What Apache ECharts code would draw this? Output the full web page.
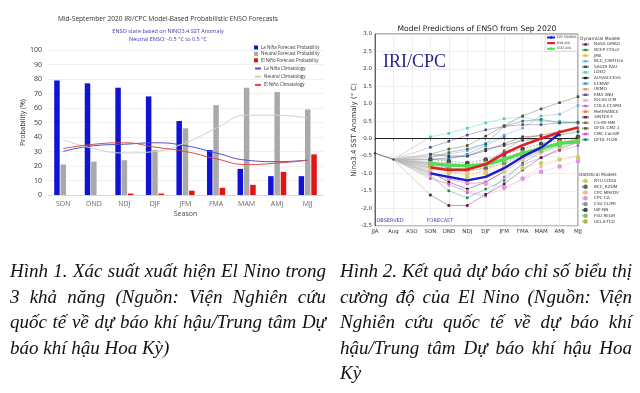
<!DOCTYPE html>
<html><head><meta charset="utf-8">
<script src="https://cdn.jsdelivr.net/npm/echarts@6/dist/echarts.min.js"></script>
<style>
html,body{margin:0;padding:0;background:#fff;}
#c{position:absolute;left:0;top:0;width:640px;height:393px;}
.cap{position:absolute;font-family:"Liberation Serif","DejaVu Serif",serif;font-style:italic;font-size:19px;color:#111;line-height:25.6px;}
.cap div{text-align:justify;text-align-last:justify;white-space:nowrap;}
.cap div.last{text-align:left;text-align-last:left;}
</style></head>
<body>
<div id="c"></div>
<div class="cap" style="left:10px;top:258px;width:316px;">
<div>Hình 1. Xác suất xuất hiện El Nino trong</div>
<div>3 khả năng (Nguồn: Viện Nghiên cứu</div>
<div>quốc tế về dự báo khí hậu/Trung tâm Dự</div>
<div class="last">báo khí hậu Hoa Kỳ)</div>
</div>
<div class="cap" style="left:340px;top:258px;width:292px;">
<div>Hình 2. Kết quả dự báo chỉ số biểu thị</div>
<div>cường độ của El Nino (Nguồn: Viện</div>
<div>Nghiên cứu quốc tế về dự báo khí</div>
<div>hậu/Trung tâm Dự báo khí hậu Hoa</div>
<div class="last">Kỳ</div>
</div>
<script>
// ---------- Left chart data ----------
const seasons = ['SON','OND','NDJ','DJF','JFM','FMA','MAM','AMJ','MJJ'];
const laNinaProb = [79,77,74,68,51,31,18,13,13];
const neutralProb = [21,23,24,31,46,62,74,71,59];
const elNinoProb = [0,0,1,1,3,5,7,16,28];
const laNinaClim = [30,34,35,36,34,29,24,23,24];
const neutralClim = [38,32,29,30,36,46,55,55,53];
const elNinoClim = [32,35,36,33,30,25,21,22,24];
const probTicks = [0,10,20,30,40,50,60,70,80,90,100];

// ---------- Right chart data ----------
const months = ['JJA','Aug','ASO','SON','OND','NDJ','DJF','JFM','FMA','MAM','AMJ','MJJ'];
const observed = [-0.42,-0.6];
// forecast values SON..MJJ
const cpcConsol = [-1.0,-1.1,-1.2,-1.1,-0.85,-0.52,-0.26,0.14,null];
const dynAvg = [-0.83,-0.9,-0.89,-0.74,-0.43,-0.19,0.0,0.18,0.32];
const statAvg = [-0.71,-0.76,-0.78,-0.74,-0.6,-0.42,-0.28,-0.14,-0.09];
const dynNames = ['NASA GMAO','NCEP CFSv2','JMA','BCC_CSM11m','SAUDI-KAU','LDEO','AUS/ACCESS','ECMWF','UKMO','KMA SNU','IOCAS ICM','COLA CCSM4','MetFRANCE','SINTEX-F','CS-IRI-MM','GFDL CM2.1','CMC CanSIP','GFDL FLOR'];
const dynValues = [
  [-0.6,-0.55,-0.5,-0.35,-0.15,0.05,0.08,null,null],
  [-1.05,-1.5,-1.7,-1.45,-1.2,-0.7,-0.4,-0.2,null],
  [-0.75,-0.95,-1.05,-0.9,-0.7,null,null,null,null],
  [-0.5,-0.45,-0.35,-0.15,0.1,0.3,0.65,0.7,0.95],
  [-0.45,-0.5,-0.5,-0.3,-0.2,-0.05,0.0,0.1,0.2],
  [0.05,0.15,0.3,0.45,0.57,0.62,0.5,0.5,0.45],
  [-0.95,-1.25,-1.45,-1.25,-0.95,null,null,null,null],
  [-0.6,-0.6,-0.45,-0.2,0.05,null,null,null,null],
  [-0.75,-0.9,-0.9,-0.7,-0.45,null,null,null,null],
  [-0.25,-0.08,0.1,0.25,0.35,0.4,0.4,0.45,0.47],
  [-1.1,-1.35,-1.5,-1.6,-1.45,-1.15,-0.8,-0.6,-0.5],
  [-1.15,-1.3,-1.55,-1.65,-1.1,-0.75,-0.55,-0.35,-0.2],
  [-0.85,-0.9,-0.95,-0.85,-0.6,-0.35,null,null,null],
  [-1.62,-1.92,-1.92,-1.6,-1.3,-0.9,-0.55,-0.3,-0.1],
  [-0.7,-0.85,-0.85,-0.7,-0.35,0.0,0.1,0.2,0.3],
  [-0.45,-0.3,-0.2,0.07,0.37,0.65,0.85,1.03,1.2],
  [-0.95,-1.15,-1.3,-1.25,-0.95,-0.6,-0.35,-0.15,0.0],
  [-0.55,-0.4,-0.3,-0.15,0.35,0.5,0.55,0.45,0.45]
];
const statNames = ['NTU CODA','BCC_RZDM','CPC MRKOV','CPC CA','CSU CLIPR','IAP-NN','FSU REGR','UCLA-TCD'];
const statValues = [
  [-0.9,-1.0,-1.1,-1.0,-0.95,-0.85,-0.7,-0.6,-0.55],
  [-0.8,-0.85,-0.9,-0.85,-0.7,-0.5,-0.3,-0.15,-0.05],
  [-0.85,-0.95,-1.0,-0.95,-0.8,-0.6,-0.4,-0.25,-0.1],
  [-1.0,-1.15,-1.25,-1.3,-1.4,-1.15,-0.95,-0.8,-0.65],
  [-0.65,-0.7,-0.75,-0.65,-0.55,-0.4,-0.25,-0.1,0.0],
  [-0.6,-0.65,-0.7,-0.6,-0.45,-0.3,-0.15,-0.05,0.05],
  [-0.75,-0.8,-0.8,-0.75,-0.65,-0.5,-0.35,-0.2,-0.1],
  [-0.7,-0.75,-0.8,-0.7,-0.6,-0.4,-0.25,-0.1,-0.05]
];

// ---------- styles ----------
const dynColors = ['#5a1a5a','#1f8a45','#e6b52a','#6aa8e0','#24463a','#3fd6a6','#111111','#3a8ad0','#e88a50','#4a4a8e','#eea0c8','#b060d0','#e8782c','#5a0a3a','#8a5a3a','#4e4e2a','#d040d0','#2a6a6a'];
const statColors = ['#c8d060','#606060','#f0b890','#e090e0','#8090a0','#404850','#80c060','#b0b050'];

const chart = echarts.init(document.getElementById('c'), null, {renderer:'canvas'});
const LF = '"Open Sans", "Liberation Sans", sans-serif';
const RF = '"DejaVu Sans", sans-serif';

function fc(values){ return [null,null,null].concat(values); }
function fan(values){ return [null, observed[1], null, values[0]]; }

const series = [];
series.push({name:'La Niña Forecast Probability',type:'bar',xAxisIndex:0,yAxisIndex:0,data:laNinaProb,barWidth:5.5,barGap:'15%',itemStyle:{color:'#1212d6'}});
series.push({name:'Neutral Forecast Probability',type:'bar',xAxisIndex:0,yAxisIndex:0,data:neutralProb,barWidth:5.5,barGap:'15%',itemStyle:{color:'#a9a9a9'}});
series.push({name:'El Niño Forecast Probability',type:'bar',xAxisIndex:0,yAxisIndex:0,data:elNinoProb,barWidth:5.5,barGap:'15%',itemStyle:{color:'#e21414'}});
series.push({name:'La Niña Climatology',type:'line',xAxisIndex:0,yAxisIndex:0,data:laNinaClim,smooth:true,symbol:'none',lineStyle:{color:'#5050c8',width:1},itemStyle:{color:'#5050c8'},z:5});
series.push({name:'Neutral Climatology',type:'line',xAxisIndex:0,yAxisIndex:0,data:neutralClim,smooth:true,symbol:'none',lineStyle:{color:'#cfcfcf',width:1},itemStyle:{color:'#cfcfcf'},z:5});
series.push({name:'El Niño Climatology',type:'line',xAxisIndex:0,yAxisIndex:0,data:elNinoClim,smooth:true,symbol:'none',lineStyle:{color:'#e04848',width:1},itemStyle:{color:'#e04848'},z:5});

const allFc = dynValues.concat(statValues,[cpcConsol,dynAvg,statAvg]);
allFc.forEach((vals,i)=>{
  series.push({name:'fan'+i,type:'line',xAxisIndex:1,yAxisIndex:1,data:fan(vals),connectNulls:true,symbol:'none',silent:true,
    lineStyle:{color:'#b8b8b8',width:0.6},z:1});
});
series.push({name:'Observed',type:'line',xAxisIndex:1,yAxisIndex:1,data:observed.concat(new Array(10).fill(null)),
  symbol:'circle',symbolSize:2.5,lineStyle:{color:'#444',width:0.8},itemStyle:{color:'#444'},z:3,
  markLine:{silent:true,symbol:'none',label:{show:false},lineStyle:{color:'#222',width:1.2,type:'solid'},data:[{yAxis:0}]}});
dynValues.forEach((vals,i)=>{
  series.push({name:dynNames[i],type:'line',xAxisIndex:1,yAxisIndex:1,data:fc(vals),symbol:'rect',symbolSize:2.6,
    lineStyle:{color:dynColors[i],width:0.7,opacity:0.55},itemStyle:{color:dynColors[i]},z:2});
});
statValues.forEach((vals,i)=>{
  series.push({name:statNames[i],type:'line',xAxisIndex:1,yAxisIndex:1,data:fc(vals),symbol:'emptyCircle',symbolSize:2.6,
    lineStyle:{color:statColors[i],width:0.7,type:[2,1.5],opacity:0.6},itemStyle:{color:statColors[i],borderWidth:0.6},z:2});
});
series.push({name:'CPC CONSOL',type:'line',xAxisIndex:1,yAxisIndex:1,data:fc(cpcConsol),symbol:'none',lineStyle:{color:'#1a1ad2',width:2.4},itemStyle:{color:'#1a1ad2'},z:6});
series.push({name:'DYN AVG',type:'line',xAxisIndex:1,yAxisIndex:1,data:fc(dynAvg),symbol:'none',lineStyle:{color:'#e02020',width:2.6},itemStyle:{color:'#e02020'},z:5});
series.push({name:'STAT AVG',type:'line',xAxisIndex:1,yAxisIndex:1,data:fc(statAvg),symbol:'none',lineStyle:{color:'#4ee04e',width:3.2},itemStyle:{color:'#4ee04e'},z:4});

const tiny = {fontSize:4.2,color:'#333',fontFamily:RF,lineHeight:4.2};

const option = {
  animation:false,
  backgroundColor:'#fff',
  grid:[
    {left:48,width:275,top:50,height:145},
    {left:375,width:203,top:34,height:191.7,show:true,borderColor:'#333',borderWidth:0.7,backgroundColor:'transparent'}
  ],
  xAxis:[
    {type:'category',gridIndex:0,data:seasons,axisTick:{show:false},axisLine:{lineStyle:{color:'#d8d8d8'}},
     axisLabel:{fontSize:7,color:'#666',margin:5,fontFamily:LF},
     name:'Season',nameLocation:'middle',nameGap:15,nameTextStyle:{fontSize:7,color:'#444',fontFamily:LF}},
    {type:'category',gridIndex:1,data:months,boundaryGap:false,
     axisLine:{lineStyle:{color:'#333',width:0.7}},axisTick:{length:2,lineStyle:{color:'#333',width:0.6}},
     axisLabel:{fontSize:5.5,color:'#333',margin:3,fontFamily:RF},
     splitLine:{show:true,lineStyle:{color:'#e4e4e4',width:0.6}}}
  ],
  yAxis:[
    {type:'value',gridIndex:0,min:probTicks[0],max:probTicks[probTicks.length-1],interval:10,
     axisLine:{show:false},axisTick:{show:false},
     axisLabel:{fontSize:7,color:'#333',margin:6,fontFamily:LF},
     splitLine:{lineStyle:{color:'#ececec',width:0.8}},
     name:'Probability (%)',nameLocation:'middle',nameRotate:90,nameGap:22,nameTextStyle:{fontSize:7,color:'#333',fontFamily:LF}},
    {type:'value',gridIndex:1,min:-2.5,max:3.0,interval:0.5,
     axisLine:{show:true,lineStyle:{color:'#333',width:0.7}},axisTick:{length:2,lineStyle:{color:'#333',width:0.6}},
     axisLabel:{fontSize:5.5,color:'#333',margin:3,fontFamily:RF,formatter:v=>v.toFixed(1)},
     splitLine:{show:true,lineStyle:{color:'#e4e4e4',width:0.6}},
     name:'Nino3.4 SST Anomaly (° C)',nameLocation:'middle',nameRotate:90,nameGap:16,nameTextStyle:{fontSize:7,color:'#333',fontFamily:RF}}
  ],
  legend:[
    {orient:'vertical',left:254,top:45,itemWidth:4,itemHeight:4,itemGap:1.4,icon:'rect',
     data:['La Niña Forecast Probability','Neutral Forecast Probability','El Niño Forecast Probability'],
     textStyle:{fontSize:4.5,color:'#333',fontFamily:LF,padding:[0,0,0,-2]},padding:0},
    {orient:'vertical',left:254,top:66,itemWidth:6,itemHeight:2,itemGap:3.2,
     data:['La Niña Climatology','Neutral Climatology','El Niño Climatology'],
     textStyle:{fontSize:4.5,color:'#333',fontFamily:LF,padding:[0,0,0,-2]},padding:0},
    {orient:'vertical',left:545,top:35,itemWidth:8,itemHeight:3,itemGap:2.6,itemStyle:{opacity:1},
     data:['CPC CONSOL','DYN AVG','STAT AVG'],textStyle:{fontSize:3,color:'#333',fontFamily:RF,lineHeight:3,padding:[0,0,0,-3]},padding:[1,1,1,1],
     backgroundColor:'#fff',borderColor:'#aaa',borderWidth:0.4},
    {orient:'vertical',left:581,top:42.3,itemWidth:7,itemHeight:3,itemGap:1.4,data:dynNames,textStyle:tiny,padding:0},
    {orient:'vertical',left:581,top:178.7,itemWidth:7,itemHeight:3,itemGap:1.4,data:statNames,textStyle:tiny,padding:0}
  ],
  graphic:[
    {type:'text',x:168,y:19,style:{text:'Mid-September 2020 IRI/CPC Model-Based Probabilistic ENSO Forecasts',fontSize:6.6,fill:'#333',fontFamily:LF,textAlign:'center',textVerticalAlign:'middle',align:'center',verticalAlign:'middle'}},
    {type:'text',x:168,y:31,style:{text:'ENSO state based on NINO3.4 SST Anomaly',fontSize:5.5,fill:'#3a3ab0',fontFamily:LF,textAlign:'center',textVerticalAlign:'middle',align:'center',verticalAlign:'middle'}},
    {type:'text',x:168,y:39,style:{text:'Neutral ENSO: -0.5 °C to 0.5 °C',fontSize:5.5,fill:'#3a3ab0',fontFamily:LF,textAlign:'center',textVerticalAlign:'middle',align:'center',verticalAlign:'middle'}},
    {type:'text',x:477,y:29.5,style:{text:'Model Predictions of ENSO from Sep 2020',fontSize:7.6,fill:'#222',fontFamily:RF,textAlign:'center',textVerticalAlign:'middle',align:'center',verticalAlign:'middle'}},
    {type:'text',x:383,y:62,style:{text:'IRI/CPC',fontSize:18,fill:'#25258e',fontFamily:'"Liberation Serif", serif',textAlign:'left',textVerticalAlign:'middle',align:'left',verticalAlign:'middle'}},
    {type:'text',x:390,y:220.5,style:{text:'OBSERVED',fontSize:5,fill:'#3a3ab0',fontFamily:RF,textAlign:'center',textVerticalAlign:'middle',align:'center',verticalAlign:'middle'}},
    {type:'text',x:440,y:220.5,style:{text:'FORECAST',fontSize:5,fill:'#3a3ab0',fontFamily:RF,textAlign:'center',textVerticalAlign:'middle',align:'center',verticalAlign:'middle'}},
    {type:'text',x:580,y:39,style:{text:'Dynamical Models',fontSize:4.4,fill:'#333',fontFamily:RF,textAlign:'left',textVerticalAlign:'middle',align:'left',verticalAlign:'middle'}},
    {type:'text',x:578,y:175,style:{text:'Statistical Models',fontSize:4.4,fill:'#333',fontFamily:RF,textAlign:'left',textVerticalAlign:'middle',align:'left',verticalAlign:'middle'}}
  ],
  series:series
};
chart.setOption(option);
</script>
</body></html>
